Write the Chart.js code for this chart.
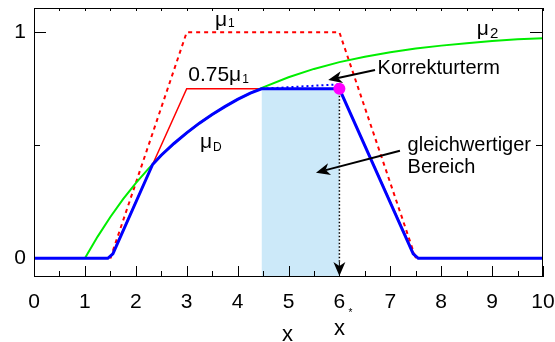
<!DOCTYPE html>
<html>
<head>
<meta charset="utf-8">
<script src="https://cdn.jsdelivr.net/npm/chart.js@4.4.1/dist/chart.umd.min.js"></script>
<style>
  html, body { margin: 0; padding: 0; background: #fff; }
  canvas { display: block; }
</style>
</head>
<body>
<canvas id="chart" width="555" height="342"></canvas>
<script>
// axis ticks
const xTicks = [0, 1, 2, 3, 4, 5, 6, 7, 8, 9, 10];
const yTicks = [0, 0.5, 1];
const yTickLabels = { 0: "0", 1: "1" };

// membership functions
const mu1X = [1.5, 3, 6, 7.5];
const mu1Y = [0, 1, 1, 0];
const mu1ScaledY = [0, 0.75, 0.75, 0];

const mu2X = [1, 1.25, 1.5, 1.75, 2, 2.25, 2.5, 2.75, 3, 3.25, 3.5, 3.75, 4, 4.25, 4.5,
              5, 5.5, 6, 6.5, 7, 7.5, 8, 8.5, 9, 9.5, 10];
const mu2Y = [0, 0.096, 0.183, 0.262, 0.333, 0.397, 0.456, 0.508, 0.555, 0.598, 0.636, 0.671, 0.703, 0.731, 0.756,
              0.801, 0.838, 0.868, 0.892, 0.912, 0.928, 0.941, 0.952, 0.961, 0.969, 0.974];

const muDX = [0, 1.45, 1.55, 2.33, 2.5, 2.75, 3, 3.25, 3.5, 3.75, 4, 4.25, 4.47, 6, 7.45, 7.55, 10];
const muDY = [0, 0, 0.02, 0.415, 0.456, 0.508, 0.555, 0.598, 0.636, 0.671, 0.703, 0.731, 0.75, 0.75, 0.02, 0, 0];

// correction term and equivalent area
const korrX = [4.47, 6];
const korrY = [0.75, 0.77];
const areaX = [4.47, 6];
const areaY = [0.75, 0.75];
const xStar = 6;
const xStarY = 0.75;

const pts = (xs, ys) => xs.map((x, i) => ({ x: x, y: ys[i] }));
const FONT = "'Liberation Sans', Arial, Helvetica, sans-serif";

// text annotations, positioned in data units; sub = subscript after the main text
const labels = [
  { t: "\u03bc", sub: "1", x: 3.556, y: 1.028, size: 21, subSize: 12, subDrop: 1.5 },
  { t: "0.75\u03bc", sub: "1", x: 3.03, y: 0.786, size: 21, subSize: 12, subDrop: 2.5 },
  { t: "\u03bc", sub: "D", x: 3.26, y: 0.486, size: 21, subSize: 12, subDrop: 3 },
  { t: "\u03bc", sub: "2", x: 8.70, y: 0.988, size: 21, subSize: 15, subDrop: 2.5 },
  { t: "Korrekturterm", x: 6.75, y: 0.816, size: 20 },
  { t: "gleichwertiger", x: 7.34, y: 0.476, size: 20 },
  { t: "Bereich", x: 7.34, y: 0.376, size: 20 },
  { t: "x", x: 4.98, y: -0.365, size: 22, align: "center" },
  { t: "x", x: 6.0, y: -0.339, size: 22, align: "center" },
  { t: "*", x: 6.18, y: -0.255, size: 10 }
];

const arrows = [
  { x1: 6.70, y1: 0.833, x2: 5.78, y2: 0.789 },
  { x1: 7.19, y1: 0.476, x2: 5.54, y2: 0.379 }
];

function drawArrow(ctx, x1, y1, x2, y2) {
  const a = Math.atan2(y2 - y1, x2 - x1);
  const L = 14, W = 6, N = 10;
  ctx.beginPath();
  ctx.moveTo(x1, y1);
  ctx.lineTo(x2 - N * Math.cos(a), y2 - N * Math.sin(a));
  ctx.stroke();
  ctx.save();
  ctx.translate(x2, y2);
  ctx.rotate(a);
  ctx.beginPath();
  ctx.moveTo(0, 0);
  ctx.lineTo(-L, -W);
  ctx.lineTo(-N, 0);
  ctx.lineTo(-L, W);
  ctx.closePath();
  ctx.fill();
  ctx.restore();
}

const frame = {
  id: "frame",
  beforeDatasetsDraw(chart) {
    const { ctx, chartArea: a, scales: { x, y } } = chart;
    ctx.save();
    ctx.strokeStyle = "#000";
    ctx.lineWidth = 1;
    ctx.beginPath();
    yTicks.forEach(v => {
      const py = Math.round(y.getPixelForValue(v)) + 0.5;
      const len = Number.isInteger(v) ? 12 : 6;
      ctx.moveTo(a.left, py); ctx.lineTo(a.left + len, py);
      ctx.moveTo(a.right, py); ctx.lineTo(a.right - len - 1, py);
    });
    for (let v = xTicks[0]; v <= xTicks[xTicks.length - 1]; v += 0.5) {
      const px = Math.round(x.getPixelForValue(v)) + 0.5;
      ctx.moveTo(px, a.top); ctx.lineTo(px, a.top + 3);
    }
    ctx.stroke();
    ctx.restore();
  },
  afterDatasetsDraw(chart) {
    const { ctx, chartArea: a, scales: { x, y } } = chart;
    ctx.save();
    ctx.strokeStyle = "#000";
    ctx.fillStyle = "#000";
    ctx.lineWidth = 1;
    // inward ticks on the bottom axis
    ctx.beginPath();
    for (let v = xTicks[0]; v <= xTicks[xTicks.length - 1]; v += 0.5) {
      const px = Math.round(x.getPixelForValue(v)) + 0.5;
      const len = Number.isInteger(v) ? 11 : 6;
      ctx.moveTo(px, a.bottom); ctx.lineTo(px, a.bottom - len);
    }
    ctx.stroke();
    ctx.strokeRect(a.left + 0.5, a.top + 0.5, a.right - a.left - 1, a.bottom - a.top - 1);

    // arrowhead at the bottom of the x* drop line
    const sx = x.getPixelForValue(xStar);
    drawArrow(ctx, sx, a.bottom - 15, sx, a.bottom - 1);

    ctx.lineWidth = 2;
    arrows.forEach(r => drawArrow(ctx,
      x.getPixelForValue(r.x1), y.getPixelForValue(r.y1),
      x.getPixelForValue(r.x2), y.getPixelForValue(r.y2)));

    ctx.textBaseline = "alphabetic";
    labels.forEach(l => {
      const px = x.getPixelForValue(l.x), py = y.getPixelForValue(l.y);
      ctx.font = l.size + "px " + FONT;
      ctx.textAlign = l.align || "left";
      ctx.fillText(l.t, px, py);
      if (l.sub) {
        const w = ctx.measureText(l.t).width;
        ctx.font = l.subSize + "px " + FONT;
        ctx.textAlign = "left";
        ctx.fillText(l.sub, px + w + 1, py + l.subDrop);
      }
    });
    ctx.restore();
  }
};

new Chart(document.getElementById("chart"), {
  type: "line",
  data: {
    datasets: [
      { data: [{ x: xStar, y: xStarY }], showLine: false, pointRadius: 6,
        pointBackgroundColor: "#ff00ff", pointBorderWidth: 0 },
      { data: pts(muDX, muDY), borderColor: "#0000ff", borderWidth: 3, pointRadius: 0 },
      { data: pts(korrX, korrY), borderColor: "#0000ff", borderWidth: 2, borderDash: [2, 3], pointRadius: 0 },
      { data: [{ x: xStar, y: xStarY }, { x: xStar, y: -0.02 }], borderColor: "#000", borderWidth: 1.5,
        borderDash: [1.5, 2], pointRadius: 0 },
      { data: pts(mu2X, mu2Y), borderColor: "#00ee00", borderWidth: 2, pointRadius: 0 },
      { data: pts(mu1X, mu1ScaledY), borderColor: "#ff0000", borderWidth: 1.5, pointRadius: 0 },
      { data: pts(mu1X, mu1Y), borderColor: "#ff0000", borderWidth: 2, borderDash: [4, 4], pointRadius: 0 },
      { data: pts(areaX, areaY), borderWidth: 0, pointRadius: 0, fill: "start",
        backgroundColor: "#cce9f9" }
    ]
  },
  options: {
    responsive: false,
    animation: false,
    events: [],
    layout: { padding: { left: 0, right: 12, top: 8, bottom: 0 } },
    plugins: { legend: { display: false }, tooltip: { enabled: false } },
    scales: {
      x: {
        type: "linear", min: 0, max: 10,
        afterBuildTicks: s => { s.ticks = xTicks.map(v => ({ value: v })); },
        afterFit: s => { s.height = 65; s.paddingLeft = 0; s.paddingRight = 0; },
        grid: { display: false, drawTicks: false },
        border: { display: false },
        ticks: { color: "#000", font: { family: FONT, size: 21 }, padding: 13,
                 maxRotation: 0, autoSkip: false }
      },
      y: {
        type: "linear", min: -0.0827, max: 1.1075,
        afterBuildTicks: s => { s.ticks = yTicks.map(v => ({ value: v })); },
        afterFit: s => { s.width = 34; s.paddingTop = 0; s.paddingBottom = 0; },
        grid: { display: false, drawTicks: false },
        border: { display: false },
        ticks: { color: "#000", font: { family: FONT, size: 21 }, padding: 8,
                 callback: v => yTickLabels[v] ?? "" }
      }
    }
  },
  plugins: [frame]
});
</script>
</body>
</html>
